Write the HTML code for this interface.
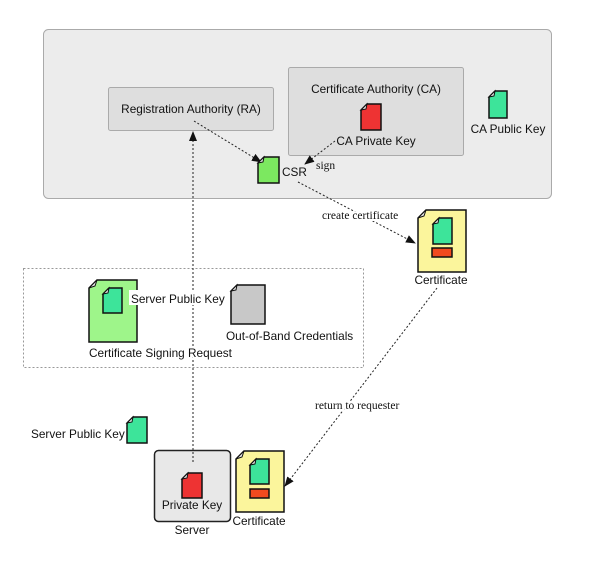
<!DOCTYPE html>
<html><head><meta charset="utf-8"><style>
html,body{margin:0;padding:0;background:#fff;}
svg{display:block;}
text{font-family:"Liberation Sans",sans-serif;font-size:11.8px;fill:#111;}
.s{font-family:"Liberation Serif",serif;font-size:11.5px;}
.w{stroke:#fff;stroke-width:4px;paint-order:stroke;stroke-linejoin:round;}
</style></head><body>
<svg width="613" height="567" viewBox="0 0 613 567" xmlns="http://www.w3.org/2000/svg">
<defs>
<marker id="a" markerWidth="10" markerHeight="8" refX="9" refY="4" orient="auto" markerUnits="userSpaceOnUse">
<path d="M0,0 L10,4 L0,8 Z" fill="#111"/></marker>
</defs>
<rect x="43.5" y="29.5" width="508" height="169" rx="5" fill="#ececec" stroke="#aaa"/>
<rect x="108.5" y="87.5" width="165" height="43" rx="2" fill="#dedede" stroke="#aaa"/>
<text x="191" y="113" text-anchor="middle">Registration Authority (RA)</text>
<rect x="288.5" y="67.5" width="175" height="88" rx="2" fill="#dedede" stroke="#aaa"/>
<text x="376" y="93" text-anchor="middle">Certificate Authority (CA)</text>
<text x="376" y="145" text-anchor="middle">CA Private Key</text>
<text x="508" y="133" text-anchor="middle">CA Public Key</text>
<rect x="23.5" y="268.5" width="340" height="99" fill="none" stroke="#999" stroke-dasharray="2,2"/>
<rect x="154.5" y="450.5" width="76" height="71" rx="4" fill="#e8e8e8" stroke="#222" stroke-width="1.5"/>
<!-- connectors -->
<g stroke="#222" stroke-width="1" stroke-dasharray="2,2" fill="none">
<line x1="193" y1="462" x2="193" y2="132" marker-end="url(#a)"/>
<line x1="194" y1="121" x2="261" y2="162" marker-end="url(#a)"/>
<line x1="335" y1="141" x2="305" y2="164" marker-end="url(#a)"/>
<line x1="298" y1="182" x2="415" y2="243" marker-end="url(#a)"/>
<line x1="437" y1="288" x2="285" y2="486" marker-end="url(#a)"/>
</g>
<!-- docs -->
<g stroke="#111" stroke-width="1.5">
<path d="M495,91 L507,91 L507,118 L489,118 L489,97 Z" fill="#3de49a"/>
<path d="M489,97 L495,91 L494,96 Z" fill="#eee" stroke-width="1"/>
<path d="M367,104 L381,104 L381,130 L361,130 L361,110 Z" fill="#ee3333"/>
<path d="M361,110 L367,104 L366,109 Z" fill="#eee" stroke-width="1"/>
<path d="M264,157 L279,157 L279,183 L258,183 L258,163 Z" fill="#7ce860"/>
<path d="M258,163 L264,157 L263,162 Z" fill="#eee" stroke-width="1"/>
<path d="M426,210 L466,210 L466,272 L418,272 L418,218 Z" fill="#fbf59c"/>
<path d="M418,218 L426,210 L424,216 Z" fill="#eee" stroke-width="1"/>
<path d="M439,218 L452,218 L452,244 L433,244 L433,224 Z" fill="#3de49a"/>
<path d="M433,224 L439,218 L438,223 Z" fill="#eee" stroke-width="1"/>
<rect x="432" y="248" width="20" height="9" fill="#f24a1e"/>
<path d="M97,280 L137,280 L137,342 L89,342 L89,288 Z" fill="#9ef58a"/>
<path d="M89,288 L97,280 L95,286 Z" fill="#eee" stroke-width="1"/>
<path d="M109,288 L122,288 L122,313 L103,313 L103,294 Z" fill="#3de49a"/>
<path d="M103,294 L109,288 L108,293 Z" fill="#eee" stroke-width="1"/>
<path d="M237,285 L265,285 L265,324 L231,324 L231,291 Z" fill="#c8c8c8"/>
<path d="M231,291 L237,285 L236,290 Z" fill="#eee" stroke-width="1"/>
<path d="M133,417 L147,417 L147,443 L127,443 L127,423 Z" fill="#3de49a"/>
<path d="M127,423 L133,417 L132,422 Z" fill="#eee" stroke-width="1"/>
<path d="M188,473 L202,473 L202,498 L182,498 L182,479 Z" fill="#ee3333"/>
<path d="M182,479 L188,473 L187,478 Z" fill="#eee" stroke-width="1"/>
<path d="M244,451 L284,451 L284,512 L236,512 L236,459 Z" fill="#fbf59c"/>
<path d="M236,459 L244,451 L242,457 Z" fill="#eee" stroke-width="1"/>
<path d="M256,459 L269,459 L269,484 L250,484 L250,465 Z" fill="#3de49a"/>
<path d="M250,465 L256,459 L255,464 Z" fill="#eee" stroke-width="1"/>
<rect x="250" y="489" width="19" height="9" fill="#f24a1e"/>
</g>
<text x="282" y="176">CSR</text>
<text class="s" x="316" y="169">sign</text>
<text class="s w" x="322" y="219">create certificate</text>
<text x="441" y="284" text-anchor="middle">Certificate</text>
<rect x="129" y="290" width="93" height="15" fill="#fff"/>
<text x="131" y="303">Server Public Key</text>
<text class="w" x="226" y="340">Out-of-Band Credentials</text>
<text class="w" x="89" y="357">Certificate Signing Request</text>
<text x="31" y="438">Server Public Key</text>
<text class="s w" x="315" y="409">return to requester</text>
<text x="192" y="509" text-anchor="middle">Private Key</text>
<text x="192" y="534" text-anchor="middle">Server</text>
<text x="259" y="525" text-anchor="middle">Certificate</text>
</svg>
</body></html>
